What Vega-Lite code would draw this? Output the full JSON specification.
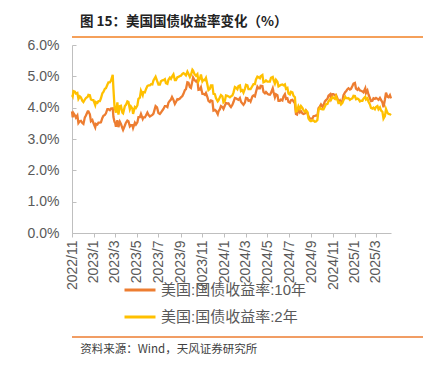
{
  "$schema": "https://vega.github.io/schema/vega-lite/v6.json",
  "padding": {"left": 16, "top": 14, "right": 10, "bottom": 5},
  "background": "white",
  "spacing": 0,
  "config": {
    "font": "Liberation Sans, Noto Sans CJK SC",
    "view": {"stroke": null}
  },
  "vconcat": [
    {
      "width": 386,
      "height": 1,
      "title": {"text": "图 15：美国国债收益率变化（%）", "anchor": "start", "orient": "top", "fontSize": 13.5, "fontWeight": "bold", "color": "#222222", "font": "Noto Sans CJK SC", "dx": 9, "offset": 8},
      "data": {"values": [{"p": 0}]},
      "mark": {"type": "rule", "color": "#F5A05A", "strokeWidth": 2},
      "encoding": {
        "y": {"field": "p", "type": "quantitative", "scale": {"domain": [0, 1]}, "axis": null}
      }
    },
    {
      "width": 319,
      "height": 188,
      "data": {"values": [
{"date":"2022-11-14","10年":3.88,"2年":4.40},
{"date":"2022-11-16","10年":3.69,"2年":4.36},
{"date":"2022-11-18","10年":3.83,"2年":4.53},
{"date":"2022-11-22","10年":3.76,"2年":4.51},
{"date":"2022-11-25","10年":3.68,"2年":4.45},
{"date":"2022-11-29","10年":3.75,"2年":4.47},
{"date":"2022-12-02","10年":3.51,"2年":4.28},
{"date":"2022-12-06","10年":3.57,"2年":4.36},
{"date":"2022-12-09","10年":3.58,"2年":4.33},
{"date":"2022-12-13","10年":3.51,"2年":4.22},
{"date":"2022-12-16","10年":3.48,"2年":4.18},
{"date":"2022-12-20","10年":3.69,"2年":4.26},
{"date":"2022-12-23","10年":3.75,"2年":4.31},
{"date":"2022-12-28","10年":3.88,"2年":4.35},
{"date":"2022-12-30","10年":3.88,"2年":4.41},
{"date":"2023-01-03","10年":3.79,"2年":4.40},
{"date":"2023-01-06","10年":3.57,"2年":4.26},
{"date":"2023-01-10","10年":3.61,"2年":4.24},
{"date":"2023-01-13","10年":3.51,"2年":4.24},
{"date":"2023-01-18","10年":3.37,"2年":4.08},
{"date":"2023-01-20","10年":3.48,"2年":4.18},
{"date":"2023-01-24","10年":3.46,"2年":4.15},
{"date":"2023-01-27","10年":3.52,"2年":4.21},
{"date":"2023-01-31","10年":3.52,"2年":4.21},
{"date":"2023-02-03","10年":3.53,"2年":4.30},
{"date":"2023-02-07","10年":3.67,"2年":4.46},
{"date":"2023-02-10","10年":3.74,"2年":4.50},
{"date":"2023-02-14","10年":3.77,"2年":4.60},
{"date":"2023-02-17","10年":3.82,"2年":4.62},
{"date":"2023-02-21","10年":3.95,"2年":4.73},
{"date":"2023-02-24","10年":3.95,"2年":4.81},
{"date":"2023-02-28","10年":3.92,"2年":4.81},
{"date":"2023-03-03","10年":3.97,"2年":4.86},
{"date":"2023-03-08","10年":3.98,"2年":5.05},
{"date":"2023-03-10","10年":3.70,"2年":4.60},
{"date":"2023-03-13","10年":3.55,"2年":4.03},
{"date":"2023-03-15","10年":3.51,"2年":3.93},
{"date":"2023-03-17","10年":3.39,"2年":3.84},
{"date":"2023-03-21","10年":3.60,"2年":4.17},
{"date":"2023-03-24","10年":3.38,"2年":3.78},
{"date":"2023-03-28","10年":3.55,"2年":4.05},
{"date":"2023-03-31","10年":3.48,"2年":4.06},
{"date":"2023-04-04","10年":3.35,"2年":3.84},
{"date":"2023-04-06","10年":3.29,"2年":3.82},
{"date":"2023-04-11","10年":3.43,"2年":4.05},
{"date":"2023-04-14","10年":3.52,"2年":4.09},
{"date":"2023-04-18","10年":3.59,"2年":4.20},
{"date":"2023-04-21","10年":3.57,"2年":4.18},
{"date":"2023-04-25","10年":3.40,"2年":3.95},
{"date":"2023-04-28","10年":3.44,"2年":4.04},
{"date":"2023-05-02","10年":3.44,"2年":3.97},
{"date":"2023-05-04","10年":3.35,"2年":3.80},
{"date":"2023-05-09","10年":3.52,"2年":4.02},
{"date":"2023-05-12","10年":3.46,"2年":3.99},
{"date":"2023-05-16","10年":3.53,"2年":4.07},
{"date":"2023-05-19","10年":3.70,"2年":4.28},
{"date":"2023-05-23","10年":3.70,"2年":4.32},
{"date":"2023-05-26","10年":3.80,"2年":4.54},
{"date":"2023-05-31","10年":3.64,"2年":4.40},
{"date":"2023-06-02","10年":3.69,"2年":4.50},
{"date":"2023-06-06","10年":3.69,"2年":4.49},
{"date":"2023-06-09","10年":3.75,"2年":4.59},
{"date":"2023-06-13","10年":3.84,"2年":4.69},
{"date":"2023-06-16","10年":3.77,"2年":4.71},
{"date":"2023-06-20","10年":3.72,"2年":4.71},
{"date":"2023-06-23","10年":3.74,"2年":4.75},
{"date":"2023-06-27","10年":3.77,"2年":4.74},
{"date":"2023-06-30","10年":3.81,"2年":4.87},
{"date":"2023-07-06","10年":4.05,"2年":4.99},
{"date":"2023-07-10","10年":4.01,"2年":4.86},
{"date":"2023-07-14","10年":3.83,"2年":4.74},
{"date":"2023-07-18","10年":3.80,"2年":4.74},
{"date":"2023-07-21","10年":3.84,"2年":4.84},
{"date":"2023-07-25","10年":3.91,"2年":4.87},
{"date":"2023-07-28","10年":3.96,"2年":4.88},
{"date":"2023-08-01","10年":4.05,"2年":4.91},
{"date":"2023-08-04","10年":4.05,"2年":4.78},
{"date":"2023-08-08","10年":4.02,"2年":4.76},
{"date":"2023-08-11","10年":4.16,"2年":4.89},
{"date":"2023-08-15","10年":4.22,"2年":4.96},
{"date":"2023-08-18","10年":4.26,"2年":4.92},
{"date":"2023-08-21","10年":4.34,"2年":4.99},
{"date":"2023-08-25","10年":4.25,"2年":5.06},
{"date":"2023-08-29","10年":4.12,"2年":4.88},
{"date":"2023-09-01","10年":4.18,"2年":4.88},
{"date":"2023-09-05","10年":4.27,"2年":4.97},
{"date":"2023-09-08","10年":4.26,"2年":4.98},
{"date":"2023-09-12","10年":4.29,"2年":5.01},
{"date":"2023-09-15","10年":4.33,"2年":5.02},
{"date":"2023-09-19","10年":4.37,"2年":5.08},
{"date":"2023-09-22","10年":4.44,"2年":5.10},
{"date":"2023-09-26","10年":4.56,"2年":5.07},
{"date":"2023-09-29","10年":4.59,"2年":5.03},
{"date":"2023-10-03","10年":4.81,"2年":5.15},
{"date":"2023-10-06","10年":4.80,"2年":5.08},
{"date":"2023-10-10","10年":4.66,"2年":4.98},
{"date":"2023-10-13","10年":4.63,"2年":5.05},
{"date":"2023-10-17","10年":4.85,"2年":5.21},
{"date":"2023-10-19","10年":4.96,"2年":5.18},
{"date":"2023-10-23","10年":4.88,"2年":5.07},
{"date":"2023-10-27","10年":4.84,"2年":5.02},
{"date":"2023-10-31","10年":4.88,"2年":5.07},
{"date":"2023-11-03","10年":4.57,"2年":4.84},
{"date":"2023-11-07","10年":4.58,"2年":4.93},
{"date":"2023-11-10","10年":4.65,"2年":5.06},
{"date":"2023-11-14","10年":4.44,"2年":4.84},
{"date":"2023-11-17","10年":4.44,"2年":4.89},
{"date":"2023-11-21","10年":4.41,"2年":4.88},
{"date":"2023-11-24","10年":4.47,"2年":4.95},
{"date":"2023-11-28","10年":4.34,"2年":4.74},
{"date":"2023-12-01","10年":4.22,"2年":4.56},
{"date":"2023-12-05","10年":4.18,"2年":4.60},
{"date":"2023-12-08","10年":4.23,"2年":4.71},
{"date":"2023-12-12","10年":4.21,"2年":4.71},
{"date":"2023-12-15","10年":3.91,"2年":4.44},
{"date":"2023-12-19","10年":3.93,"2年":4.43},
{"date":"2023-12-22","10年":3.90,"2年":4.31},
{"date":"2023-12-27","10年":3.79,"2年":4.20},
{"date":"2023-12-29","10年":3.88,"2年":4.23},
{"date":"2024-01-02","10年":3.95,"2年":4.33},
{"date":"2024-01-05","10年":4.05,"2年":4.40},
{"date":"2024-01-09","10年":4.02,"2年":4.36},
{"date":"2024-01-12","10年":3.96,"2年":4.17},
{"date":"2024-01-16","10年":4.07,"2年":4.22},
{"date":"2024-01-19","10年":4.15,"2年":4.39},
{"date":"2024-01-23","10年":4.13,"2年":4.38},
{"date":"2024-01-26","10年":4.14,"2年":4.36},
{"date":"2024-01-30","10年":4.06,"2年":4.33},
{"date":"2024-02-02","10年":4.02,"2年":4.36},
{"date":"2024-02-06","10年":4.09,"2年":4.39},
{"date":"2024-02-09","10年":4.18,"2年":4.48},
{"date":"2024-02-13","10年":4.31,"2年":4.66},
{"date":"2024-02-16","10年":4.30,"2年":4.64},
{"date":"2024-02-20","10年":4.27,"2年":4.59},
{"date":"2024-02-23","10年":4.25,"2年":4.69},
{"date":"2024-02-27","10年":4.31,"2年":4.71},
{"date":"2024-03-01","10年":4.19,"2年":4.53},
{"date":"2024-03-05","10年":4.13,"2年":4.56},
{"date":"2024-03-08","10年":4.09,"2年":4.48},
{"date":"2024-03-12","10年":4.16,"2年":4.60},
{"date":"2024-03-15","10年":4.31,"2年":4.73},
{"date":"2024-03-19","10年":4.30,"2年":4.71},
{"date":"2024-03-22","10年":4.22,"2年":4.59},
{"date":"2024-03-26","10年":4.24,"2年":4.59},
{"date":"2024-03-28","10年":4.20,"2年":4.59},
{"date":"2024-04-02","10年":4.36,"2年":4.69},
{"date":"2024-04-05","10年":4.39,"2年":4.75},
{"date":"2024-04-09","10年":4.36,"2年":4.75},
{"date":"2024-04-12","10年":4.50,"2年":4.90},
{"date":"2024-04-16","10年":4.67,"2年":4.99},
{"date":"2024-04-19","10年":4.62,"2年":4.97},
{"date":"2024-04-23","10年":4.62,"2年":4.94},
{"date":"2024-04-25","10年":4.70,"2年":5.00},
{"date":"2024-04-30","10年":4.69,"2年":5.04},
{"date":"2024-05-03","10年":4.50,"2年":4.81},
{"date":"2024-05-07","10年":4.46,"2年":4.83},
{"date":"2024-05-10","10年":4.50,"2年":4.87},
{"date":"2024-05-14","10年":4.45,"2年":4.83},
{"date":"2024-05-17","10年":4.42,"2年":4.83},
{"date":"2024-05-21","10年":4.41,"2年":4.83},
{"date":"2024-05-24","10年":4.47,"2年":4.95},
{"date":"2024-05-29","10年":4.62,"2年":4.98},
{"date":"2024-05-31","10年":4.51,"2年":4.89},
{"date":"2024-06-04","10年":4.33,"2年":4.77},
{"date":"2024-06-07","10年":4.43,"2年":4.89},
{"date":"2024-06-11","10年":4.40,"2年":4.83},
{"date":"2024-06-14","10年":4.22,"2年":4.68},
{"date":"2024-06-18","10年":4.22,"2年":4.71},
{"date":"2024-06-21","10年":4.26,"2年":4.73},
{"date":"2024-06-25","10年":4.23,"2年":4.74},
{"date":"2024-06-28","10年":4.36,"2年":4.71},
{"date":"2024-07-02","10年":4.43,"2年":4.74},
{"date":"2024-07-05","10年":4.28,"2年":4.60},
{"date":"2024-07-09","10年":4.30,"2年":4.63},
{"date":"2024-07-12","10年":4.18,"2年":4.45},
{"date":"2024-07-16","10年":4.16,"2年":4.42},
{"date":"2024-07-19","10年":4.24,"2年":4.51},
{"date":"2024-07-23","10年":4.25,"2年":4.49},
{"date":"2024-07-26","10年":4.20,"2年":4.38},
{"date":"2024-07-30","10年":4.14,"2年":4.33},
{"date":"2024-08-02","10年":3.80,"2年":3.88},
{"date":"2024-08-05","10年":3.78,"2年":3.89},
{"date":"2024-08-09","10年":3.94,"2年":4.05},
{"date":"2024-08-13","10年":3.85,"2年":3.96},
{"date":"2024-08-16","10年":3.89,"2年":4.05},
{"date":"2024-08-20","10年":3.82,"2年":3.99},
{"date":"2024-08-23","10年":3.80,"2年":3.92},
{"date":"2024-08-27","10年":3.82,"2年":3.87},
{"date":"2024-08-30","10年":3.91,"2年":3.91},
{"date":"2024-09-03","10年":3.84,"2年":3.86},
{"date":"2024-09-06","10年":3.72,"2年":3.65},
{"date":"2024-09-10","10年":3.65,"2年":3.59},
{"date":"2024-09-13","10年":3.65,"2年":3.57},
{"date":"2024-09-17","10年":3.65,"2年":3.59},
{"date":"2024-09-20","10年":3.73,"2年":3.59},
{"date":"2024-09-24","10年":3.74,"2年":3.55},
{"date":"2024-09-27","10年":3.75,"2年":3.56},
{"date":"2024-10-01","10年":3.74,"2年":3.61},
{"date":"2024-10-04","10年":3.98,"2年":3.93},
{"date":"2024-10-08","10年":4.04,"2年":4.00},
{"date":"2024-10-11","10年":4.10,"2年":3.96},
{"date":"2024-10-15","10年":4.03,"2年":3.95},
{"date":"2024-10-18","10年":4.08,"2年":3.95},
{"date":"2024-10-22","10年":4.20,"2年":4.04},
{"date":"2024-10-25","10年":4.24,"2年":4.11},
{"date":"2024-10-29","10年":4.28,"2年":4.12},
{"date":"2024-11-01","10年":4.38,"2年":4.20},
{"date":"2024-11-06","10年":4.43,"2年":4.27},
{"date":"2024-11-08","10年":4.30,"2年":4.25},
{"date":"2024-11-12","10年":4.43,"2年":4.34},
{"date":"2024-11-15","10年":4.43,"2年":4.31},
{"date":"2024-11-19","10年":4.39,"2年":4.28},
{"date":"2024-11-22","10年":4.41,"2年":4.37},
{"date":"2024-11-26","10年":4.30,"2年":4.25},
{"date":"2024-11-29","10年":4.18,"2年":4.15},
{"date":"2024-12-03","10年":4.23,"2年":4.17},
{"date":"2024-12-06","10年":4.15,"2年":4.10},
{"date":"2024-12-10","10年":4.22,"2年":4.15},
{"date":"2024-12-13","10年":4.40,"2年":4.24},
{"date":"2024-12-18","10年":4.50,"2年":4.35},
{"date":"2024-12-20","10年":4.52,"2年":4.31},
{"date":"2024-12-24","10年":4.59,"2年":4.30},
{"date":"2024-12-27","10年":4.62,"2年":4.31},
{"date":"2024-12-31","10年":4.58,"2年":4.25},
{"date":"2025-01-03","10年":4.60,"2年":4.28},
{"date":"2025-01-07","10年":4.69,"2年":4.30},
{"date":"2025-01-10","10年":4.77,"2年":4.38},
{"date":"2025-01-14","10年":4.79,"2年":4.37},
{"date":"2025-01-17","10年":4.61,"2年":4.27},
{"date":"2025-01-21","10年":4.57,"2年":4.29},
{"date":"2025-01-24","10年":4.62,"2年":4.27},
{"date":"2025-01-28","10年":4.55,"2年":4.20},
{"date":"2025-01-31","10年":4.54,"2年":4.22},
{"date":"2025-02-04","10年":4.52,"2年":4.22},
{"date":"2025-02-07","10年":4.49,"2年":4.29},
{"date":"2025-02-12","10年":4.62,"2年":4.35},
{"date":"2025-02-14","10年":4.47,"2年":4.26},
{"date":"2025-02-18","10年":4.55,"2年":4.30},
{"date":"2025-02-21","10年":4.42,"2年":4.19},
{"date":"2025-02-25","10年":4.30,"2年":4.10},
{"date":"2025-02-28","10年":4.21,"2年":3.99},
{"date":"2025-03-04","10年":4.22,"2年":3.97},
{"date":"2025-03-07","10年":4.30,"2年":4.00},
{"date":"2025-03-11","10年":4.28,"2年":3.95},
{"date":"2025-03-14","10年":4.31,"2年":4.02},
{"date":"2025-03-18","10年":4.28,"2年":4.05},
{"date":"2025-03-21","10年":4.25,"2年":3.95},
{"date":"2025-03-25","10年":4.31,"2年":4.01},
{"date":"2025-03-28","10年":4.25,"2年":3.91},
{"date":"2025-04-01","10年":4.17,"2年":3.87},
{"date":"2025-04-04","10年":4.01,"2年":3.65},
{"date":"2025-04-08","10年":4.26,"2年":3.73},
{"date":"2025-04-11","10年":4.48,"2年":3.96},
{"date":"2025-04-15","10年":4.35,"2年":3.84},
{"date":"2025-04-18","10年":4.33,"2年":3.80},
{"date":"2025-04-22","10年":4.40,"2年":3.79},
{"date":"2025-04-25","10年":4.30,"2年":3.76}
      ]},
      "transform": [{"fold": ["10年", "2年"], "as": ["series", "value"]}],
      "mark": {"type": "line", "strokeWidth": 2.3},
      "encoding": {
        "x": {
          "field": "date", "type": "temporal",
          "scale": {"domain": ["2022-11-14", "2025-04-25"]},
          "axis": {
            "title": null, "grid": false,
            "values": ["2022-11-14","2023-01-14","2023-03-14","2023-05-14","2023-07-14","2023-09-14","2023-11-14","2024-01-14","2024-03-14","2024-05-14","2024-07-14","2024-09-14","2024-11-14","2025-01-14","2025-03-14"],
            "format": "%Y/%-m", "labelAngle": 270, "labelFontSize": 14, "labelColor": "#595959",
            "labelFont": "Liberation Sans",
            "domainColor": "#BFBFBF", "tickColor": "#BFBFBF", "tickSize": 4, "labelPadding": 3, "labelOverlap": false, "labelFlush": false
          }
        },
        "y": {
          "field": "value", "type": "quantitative",
          "scale": {"domain": [0, 6], "nice": false},
          "axis": {
            "title": null, "grid": false, "values": [0,1,2,3,4,5,6],
            "labelExpr": "format(datum.value, '.1f') + '%'",
            "labelFontSize": 14, "labelColor": "#595959", "labelFont": "Liberation Sans",
            "domainColor": "#BFBFBF", "tickColor": "#BFBFBF", "tickSize": -4, "labelPadding": 17, "minExtent": 56
          }
        },
        "color": {
          "field": "series", "type": "nominal",
          "scale": {"domain": ["10年", "2年"], "range": ["#ED7D31", "#FFC000"]},
          "legend": {
            "title": null, "orient": "none", "legendX": 51, "legendY": 237,
            "direction": "vertical", "symbolType": "stroke", "symbolSize": 961, "symbolStrokeWidth": 3,
            "labelExpr": "'美国:国债收益率:' + datum.label", "labelFontSize": 15, "labelColor": "#595959",
            "labelFont": "Liberation Sans, Noto Sans CJK SC", "labelOffset": 4, "rowPadding": 2, "padding": 0
          }
        }
      }
    },
    {
      "width": 386,
      "height": 47,
      "title": {"text": "资料来源：Wind，天风证券研究所", "anchor": "start", "orient": "bottom", "fontSize": 11.5, "fontWeight": "normal", "color": "#404040", "font": "Noto Sans CJK SC", "dx": 9, "offset": 6},
      "data": {"values": [{"p": 0}]},
      "mark": {"type": "rule", "color": "#ED7D31", "strokeWidth": 1.5},
      "encoding": {
        "y": {"field": "p", "type": "quantitative", "scale": {"domain": [0, 1]}, "axis": null}
      }
    }
  ]
}
